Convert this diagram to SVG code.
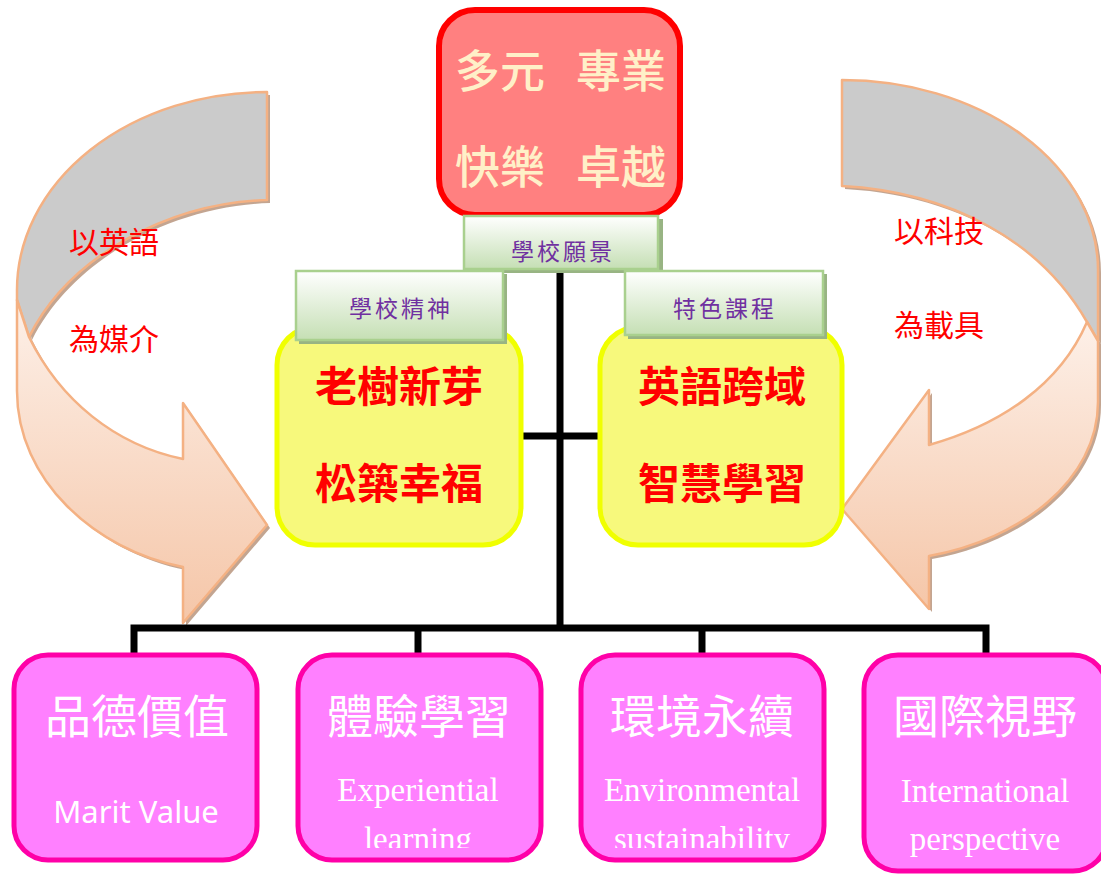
<svg xmlns="http://www.w3.org/2000/svg" width="1101" height="875" viewBox="0 0 1101 875">
<defs>
<style>
.cjk{font-family:"Noto Sans CJK TC","Noto Sans CJK SC",sans-serif}
.top{font-size:45px;fill:#FFF0C8;text-anchor:middle;font-weight:500}
.lbl{font-size:23px;fill:#7030A0;text-anchor:middle;letter-spacing:3px}
.yt{font-size:42px;fill:#FF0000;font-weight:bold;text-anchor:middle}
.side{font-size:30px;fill:#FF0000;text-anchor:middle}
.bt{font-size:46px;fill:#FFFFFF;text-anchor:middle}
.en{font-family:"Liberation Serif",serif;font-size:33px;fill:#FFFFFF;text-anchor:middle}
.ens{font-family:"Noto Sans","Liberation Sans",sans-serif;font-size:31px;fill:#FFFFFF;text-anchor:middle}
.conn{stroke:#000;stroke-width:7;fill:none}
.lb{fill:url(#lg);stroke:#A9D08E;stroke-width:2.5}
.lbs{fill:#98B483}
.pink{fill:#FF80FF;stroke:#FF00A8;stroke-width:5}
.yel{fill:#F7F97C;stroke:#F0FF00;stroke-width:5}
.grey{fill:#CBCBCB;stroke:#F4B183;stroke-width:2.5;stroke-linejoin:round}
.face{fill:url(#pg);stroke:#F4B183;stroke-width:2.5;stroke-linejoin:round}
.sh{fill:#B8957E;opacity:0.85}
</style>
<linearGradient id="lg" x1="0" y1="0" x2="0" y2="1">
<stop offset="0" stop-color="#FFFFFF"/><stop offset="1" stop-color="#C5DFB4"/>
</linearGradient>
<linearGradient id="pg" x1="0" y1="0" x2="0" y2="1">
<stop offset="0" stop-color="#FDF0E8"/><stop offset="1" stop-color="#F5C6A8"/>
</linearGradient>
<clipPath id="clipB"><rect x="0" y="640" width="1101" height="208"/></clipPath>
</defs>

<g id="arrow-left">
<path class="sh" transform="translate(3,3)" d="M267,92 A250,198 0 0 0 17,290 L29,337 C70,255 170,203 267,200 Z"/>
<path class="sh" transform="translate(3,3)" d="M17,300 L17,391 C17,480 95,550 183,567 L183,623 L267,525 L183,403 L183,459 C115,445 60,400 29,337 Z"/>
<path class="grey" d="M267,92 A250,198 0 0 0 17,290 L17,300 L29,337 C70,255 170,203 267,200 Z"/>
<path class="face" d="M17,300 L17,391 C17,480 95,550 183,567 L183,623 L267,525 L183,403 L183,459 C115,445 60,400 29,337 Z"/>
<text class="cjk side" x="114" y="253">以英語</text>
<text class="cjk side" x="114" y="350">為媒介</text>
</g>

<g id="arrow-right">
<path class="sh" transform="translate(3,3)" d="M842,80 A256,190 0 0 1 1098,270 L1098,341 L1087,322 C1040,240 950,192 842,186 Z"/>
<path class="sh" transform="translate(3,3)" d="M1098,341 L1098,402 C1098,480 1020,540 929,556 L929,609 L842,509 L929,390 L929,445 C1000,425 1060,385 1087,322 Z"/>
<path class="grey" d="M842,80 A256,190 0 0 1 1098,270 L1098,341 L1087,322 C1040,240 950,192 842,186 Z"/>
<path class="face" d="M1098,341 L1098,402 C1098,480 1020,540 929,556 L929,609 L842,509 L929,390 L929,445 C1000,425 1060,385 1087,322 Z"/>
<text class="cjk side" x="939" y="242">以科技</text>
<text class="cjk side" x="939" y="336">為載具</text>
</g>

<g id="connectors">
<line class="conn" x1="560" y1="270" x2="560" y2="631"/>
<line class="conn" x1="520" y1="436" x2="602" y2="436"/>
<polyline class="conn" points="134,656 134,628 986,628 986,656"/>
<line class="conn" x1="418" y1="628" x2="418" y2="656"/>
<line class="conn" x1="702" y1="628" x2="702" y2="656"/>
</g>

<g id="vision">
<rect x="439" y="10" width="241" height="205" rx="36" fill="#FF8080" stroke="#FF0000" stroke-width="6"/>
<text class="cjk top" x="500" y="88">多元</text>
<text class="cjk top" x="621" y="88">專業</text>
<text class="cjk top" x="500" y="184">快樂</text>
<text class="cjk top" x="621" y="184">卓越</text>
</g>

<g id="label-vision">
<rect class="lbs" x="467" y="219" width="196" height="54"/>
<rect class="lb" x="464" y="216" width="194" height="53"/>
<text class="cjk lbl" x="563" y="260">學校願景</text>
</g>

<g id="spirit">
<rect class="yel" x="277" y="327" width="244" height="218" rx="38"/>
<text class="cjk yt" x="399" y="402">老樹新芽</text>
<text class="cjk yt" x="399" y="499">松築幸福</text>
</g>

<g id="curriculum">
<rect class="yel" x="600" y="327" width="242" height="218" rx="38"/>
<text class="cjk yt" x="722" y="402">英語跨域</text>
<text class="cjk yt" x="722" y="499">智慧學習</text>
</g>

<g id="label-spirit">
<rect class="lbs" x="299" y="274" width="208" height="70"/>
<rect class="lb" x="296" y="271" width="207" height="69"/>
<text class="cjk lbl" x="401" y="317">學校精神</text>
</g>

<g id="label-curriculum">
<rect class="lbs" x="628" y="274" width="199" height="65"/>
<rect class="lb" x="625" y="271" width="198" height="64"/>
<text class="cjk lbl" x="725" y="317">特色課程</text>
</g>

<g id="node-value">
<rect class="pink" x="14" y="655" width="243" height="205" rx="34"/>
<text class="cjk bt" x="137" y="733">品德價值</text>
<text class="ens" x="136" y="823">Marit Value</text>
</g>

<g id="node-experiential">
<rect class="pink" x="298" y="655" width="243" height="205" rx="34"/>
<text class="cjk bt" x="419" y="733">體驗學習</text>
<g clip-path="url(#clipB)">
<text class="en" x="418" y="801">Experiential</text>
<text class="en" x="418" y="850">learning</text>
</g>
</g>

<g id="node-environment">
<rect class="pink" x="581" y="655" width="243" height="205" rx="34"/>
<text class="cjk bt" x="702" y="733">環境永續</text>
<g clip-path="url(#clipB)">
<text class="en" x="702" y="801">Environmental</text>
<text class="en" x="702" y="850">sustainability</text>
</g>
</g>

<g id="node-international">
<rect class="pink" x="864" y="655" width="243" height="216" rx="34"/>
<text class="cjk bt" x="985" y="733">國際視野</text>
<text class="en" x="985" y="802">International</text>
<text class="en" x="985" y="850">perspective</text>
</g>
</svg>
